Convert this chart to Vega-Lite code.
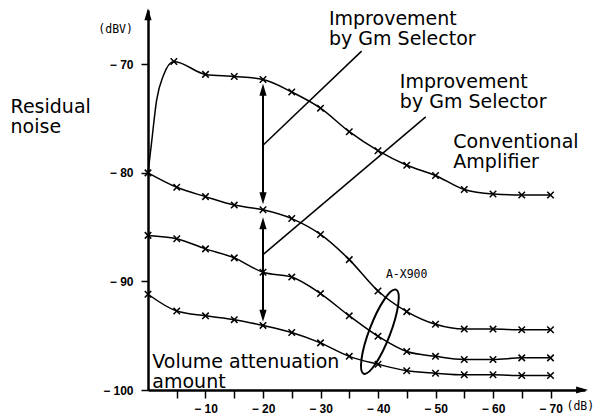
{
  "$schema": "https://vega.github.io/schema/vega-lite/v6.json",
  "width": 437,
  "height": 380,
  "autosize": {"type": "none"},
  "padding": {"left": 148, "top": 10, "right": 19, "bottom": 27},
  "background": "white",
  "config": {"view": {"stroke": null}, "axis": {"grid": false}},
  "datasets": {
    "curves": [
      {"s": "a", "x": 0, "y": -80, "m": 0},
      {"s": "a", "x": -0.6, "y": -77.3, "m": 0},
      {"s": "a", "x": -1.5, "y": -73.3, "m": 0},
      {"s": "a", "x": -2.7, "y": -71.0, "m": 0},
      {"s": "a", "x": -4.5, "y": -69.74, "m": 1},
      {"s": "a", "x": -10, "y": -70.93, "m": 1},
      {"s": "a", "x": -15, "y": -71.12, "m": 1},
      {"s": "a", "x": -20, "y": -71.4, "m": 1},
      {"s": "a", "x": -25, "y": -72.55, "m": 1},
      {"s": "a", "x": -30, "y": -74.04, "m": 1},
      {"s": "a", "x": -35, "y": -76.21, "m": 1},
      {"s": "a", "x": -40, "y": -77.96, "m": 1},
      {"s": "a", "x": -45, "y": -79.3, "m": 1},
      {"s": "a", "x": -50, "y": -80.24, "m": 1},
      {"s": "a", "x": -55, "y": -81.54, "m": 1},
      {"s": "a", "x": -60, "y": -81.95, "m": 1},
      {"s": "a", "x": -65, "y": -82.04, "m": 1},
      {"s": "a", "x": -70, "y": -82.04, "m": 1},
      {"s": "b", "x": 0, "y": -80, "m": 1},
      {"s": "b", "x": -5, "y": -81.33, "m": 1},
      {"s": "b", "x": -10, "y": -82.19, "m": 1},
      {"s": "b", "x": -15, "y": -82.97, "m": 1},
      {"s": "b", "x": -20, "y": -83.4, "m": 1},
      {"s": "b", "x": -25, "y": -84.21, "m": 1},
      {"s": "b", "x": -30, "y": -85.67, "m": 1},
      {"s": "b", "x": -35, "y": -87.99, "m": 1},
      {"s": "b", "x": -40, "y": -90.88, "m": 1},
      {"s": "b", "x": -45, "y": -92.78, "m": 1},
      {"s": "b", "x": -50, "y": -93.95, "m": 1},
      {"s": "b", "x": -55, "y": -94.39, "m": 1},
      {"s": "b", "x": -60, "y": -94.39, "m": 1},
      {"s": "b", "x": -65, "y": -94.45, "m": 1},
      {"s": "b", "x": -70, "y": -94.45, "m": 1},
      {"s": "c", "x": 0, "y": -85.76, "m": 1},
      {"s": "c", "x": -5, "y": -86.07, "m": 1},
      {"s": "c", "x": -10, "y": -87.0, "m": 1},
      {"s": "c", "x": -15, "y": -87.83, "m": 1},
      {"s": "c", "x": -20, "y": -89.16, "m": 1},
      {"s": "c", "x": -25, "y": -89.6, "m": 1},
      {"s": "c", "x": -30, "y": -91.12, "m": 1},
      {"s": "c", "x": -35, "y": -93.17, "m": 1},
      {"s": "c", "x": -40, "y": -95.05, "m": 1},
      {"s": "c", "x": -45, "y": -96.46, "m": 1},
      {"s": "c", "x": -50, "y": -96.9, "m": 1},
      {"s": "c", "x": -55, "y": -97.19, "m": 1},
      {"s": "c", "x": -60, "y": -97.19, "m": 1},
      {"s": "c", "x": -65, "y": -97.04, "m": 1},
      {"s": "c", "x": -70, "y": -97.04, "m": 1},
      {"s": "d", "x": 0, "y": -91.18, "m": 1},
      {"s": "d", "x": -5, "y": -92.73, "m": 1},
      {"s": "d", "x": -10, "y": -93.17, "m": 1},
      {"s": "d", "x": -15, "y": -93.52, "m": 1},
      {"s": "d", "x": -20, "y": -94.05, "m": 1},
      {"s": "d", "x": -25, "y": -94.7, "m": 1},
      {"s": "d", "x": -30, "y": -95.66, "m": 1},
      {"s": "d", "x": -35, "y": -96.9, "m": 1},
      {"s": "d", "x": -40, "y": -97.63, "m": 1},
      {"s": "d", "x": -45, "y": -98.22, "m": 1},
      {"s": "d", "x": -50, "y": -98.45, "m": 1},
      {"s": "d", "x": -55, "y": -98.6, "m": 1},
      {"s": "d", "x": -60, "y": -98.6, "m": 1},
      {"s": "d", "x": -65, "y": -98.66, "m": 1},
      {"s": "d", "x": -70, "y": -98.66, "m": 1}
    ],
    "arrows": [
      {"x": -20, "y": -72.35, "y2": -82.35},
      {"x": -20, "y": -84.65, "y2": -93.15}
    ],
    "heads": [
      {"x": -20, "y": -72.35, "dir": "up"},
      {"x": -20, "y": -82.35, "dir": "down"},
      {"x": -20, "y": -84.65, "dir": "up"},
      {"x": -20, "y": -93.15, "dir": "down"},
      {"x": 0, "y": -65.4, "dir": "up"},
      {"x": -75.5, "y": -100, "dir": "right"}
    ],
    "leaders": [
      {"x": -20, "y": -77.45, "x2": -37.15, "y2": -68.79},
      {"x": -20, "y": -87.53, "x2": -48.3, "y2": -74.84}
    ],
    "ellipse": [
      {"x": -40.33, "y": -94.63}
    ],
    "labels": [
      {"x": -31.47, "y": -66.38, "t": "Improvement\nby Gm Selector"},
      {"x": -43.8, "y": -72.21, "t": "Improvement\nby Gm Selector"},
      {"x": -53.1, "y": -77.74, "t": "Conventional\nAmplifier"},
      {"x": 23.9, "y": -74.46, "t": "Residual\nnoise"},
      {"x": -0.75, "y": -98.0, "t": "Volume attenuation\namount"}
    ],
    "small": [
      {"x": 8.64, "y": -66.84, "t": "(dBV)"},
      {"x": -41.37, "y": -89.41, "t": "A-X900"},
      {"x": -72.78, "y": -101.55, "t": "(dB)"}
    ]
  },
  "encoding": {
    "x": {
      "field": "x",
      "type": "quantitative",
      "scale": {"domain": [0, -76], "nice": false, "zero": false},
      "axis": {
        "values": [-5, -10, -15, -20, -25, -30, -35, -40, -45, -50, -55, -60, -65, -70],
        "labelExpr": "datum.value % 10 == 0 ? '− ' + abs(datum.value) : ''",
        "title": null,
        "grid": false,
        "tickSize": 8,
        "tickWidth": 1.5,
        "tickColor": "black",
        "domainColor": "black",
        "domainWidth": 2.5,
        "labelFont": "Liberation Sans",
        "labelFontSize": 12,
        "labelFontWeight": "bold",
        "labelColor": "black",
        "labelPadding": 5,
        "labelFlush": false,
        "labelOverlap": false
      }
    },
    "y": {
      "field": "y",
      "type": "quantitative",
      "scale": {"domain": [-100, -65], "nice": false, "zero": false},
      "axis": {
        "values": [-70, -80, -90, -100],
        "labelExpr": "'− ' + abs(datum.value)",
        "title": null,
        "grid": false,
        "tickSize": 7,
        "tickWidth": 1.5,
        "tickColor": "black",
        "domainColor": "black",
        "domainWidth": 2.5,
        "labelFont": "Liberation Sans",
        "labelFontSize": 12,
        "labelFontWeight": "bold",
        "labelColor": "black",
        "labelPadding": 8,
        "labelOverlap": false
      }
    }
  },
  "layer": [
    {
      "data": {"name": "curves"},
      "mark": {"type": "line", "color": "black", "strokeWidth": 1.5, "interpolate": "monotone"},
      "encoding": {
        "detail": {"field": "s"},
        "order": {"field": "x", "sort": "descending"}
      }
    },
    {
      "data": {"name": "curves"},
      "transform": [{"filter": "datum.m == 1"}],
      "mark": {"type": "point", "shape": "M-1,-1L1,1M1,-1L-1,1", "size": 42, "filled": false, "color": "black", "strokeWidth": 1.5, "opacity": 1}
    },
    {
      "data": {"name": "arrows"},
      "mark": {"type": "rule", "color": "black", "strokeWidth": 2},
      "encoding": {"y2": {"field": "y2"}}
    },
    {
      "data": {"name": "heads"},
      "mark": {"type": "point", "filled": true, "color": "black", "size": 144, "opacity": 1, "strokeWidth": 0},
      "encoding": {
        "shape": {
          "field": "dir",
          "type": "nominal",
          "scale": {
            "domain": ["up", "down", "right"],
            "range": ["M0,-1L0.6,1L-0.6,1Z", "M0,1L0.6,-1L-0.6,-1Z", "M1,0L-1,0.6L-1,-0.6Z"]
          },
          "legend": null
        }
      }
    },
    {
      "data": {"name": "leaders"},
      "mark": {"type": "rule", "color": "black", "strokeWidth": 1.5},
      "encoding": {"x2": {"field": "x2"}, "y2": {"field": "y2"}}
    },
    {
      "data": {"name": "ellipse"},
      "mark": {
        "type": "point",
        "shape": "M0,-1C0.1287,-1 0.233,-0.5523 0.233,0C0.233,0.5523 0.1287,1 0,1C-0.1287,1 -0.233,0.5523 -0.233,0C-0.233,-0.5523 -0.1287,-1 0,-1Z",
        "size": 8100,
        "angle": 21,
        "filled": false,
        "color": "black",
        "strokeWidth": 2,
        "opacity": 1
      }
    },
    {
      "data": {"name": "labels"},
      "mark": {"type": "text", "font": "DejaVu Sans", "fontSize": 19, "align": "left", "baseline": "alphabetic", "lineBreak": "\n", "lineHeight": 20, "color": "black"},
      "encoding": {"text": {"field": "t"}}
    },
    {
      "data": {"name": "small"},
      "mark": {"type": "text", "font": "DejaVu Sans Mono", "fontSize": 11.5, "align": "left", "baseline": "middle", "color": "black"},
      "encoding": {"text": {"field": "t"}}
    }
  ]
}
